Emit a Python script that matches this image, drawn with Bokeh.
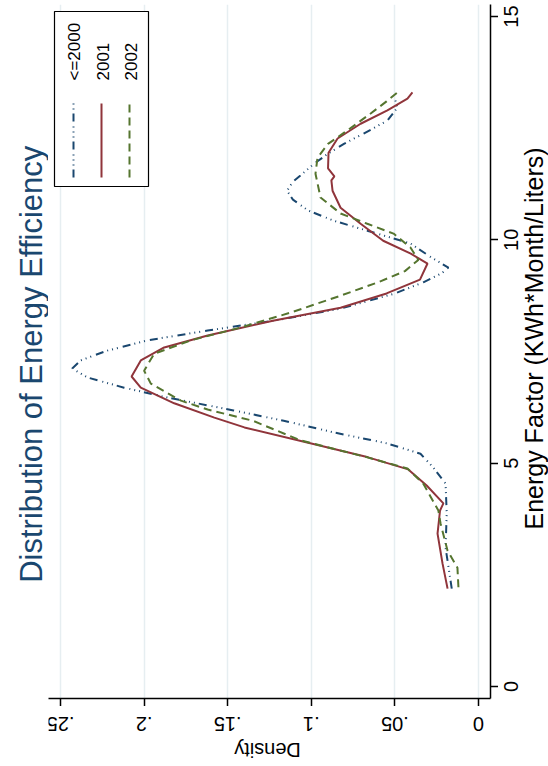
import math
from bokeh.plotting import figure
from bokeh.layouts import row, column
from bokeh.models import Range1d, FixedTicker
from bokeh.core.properties import value
from bokeh.embed import file_html
from bokeh.resources import INLINE

# ---------------- data (Energy Factor, Density) ----------------
ef_2000 = [2.19, 3.11, 3.87, 4.54, 4.9, 5.21, 5.44, 5.69, 5.95, 6.18, 6.47, 6.69, 6.92, 7.12,
           7.3, 7.52, 7.75, 7.97, 8.19, 8.46, 8.8, 9.05, 9.25, 9.38, 9.6, 9.92, 10.2, 10.43,
           10.66, 10.9, 11.1, 11.3, 11.44, 11.7, 11.93, 12.15, 12.38, 12.67, 12.96, 13.12]
d_2000 = [0.016, 0.0197, 0.019, 0.0197, 0.027, 0.0347, 0.0545, 0.0867, 0.1165, 0.1465, 0.186,
          0.212, 0.234, 0.243, 0.238, 0.222, 0.198, 0.162, 0.1225, 0.0825, 0.050, 0.033, 0.022,
          0.018, 0.028, 0.0407, 0.066, 0.0867, 0.102, 0.111, 0.1145, 0.111, 0.1065, 0.0985,
          0.090, 0.0805, 0.0687, 0.0545, 0.0485, 0.0497]

ef_2001 = [2.19, 2.75, 3.42, 3.94, 4.1, 4.5, 4.86, 5.13, 5.44, 5.8, 6.02, 6.34, 6.69, 6.94,
           7.3, 7.59, 7.86, 8.19, 8.48, 8.8, 9.11, 9.47, 9.69, 9.98, 10.36, 10.72, 11.1, 11.33,
           11.42, 11.6, 11.95, 12.27, 12.6, 12.9, 13.16, 13.3]
d_2001 = [0.0185, 0.0215, 0.0245, 0.023, 0.021, 0.031, 0.042, 0.066, 0.100, 0.14, 0.158, 0.182,
          0.202, 0.2075, 0.202, 0.188, 0.162, 0.123, 0.0825, 0.055, 0.035, 0.0305, 0.0405, 0.057,
          0.0705, 0.0825, 0.0873, 0.088, 0.0862, 0.090, 0.0897, 0.0843, 0.0705, 0.0545, 0.0425,
          0.0395]

ef_2002 = [2.22, 2.66, 3.04, 3.65, 3.94, 4.54, 4.88, 5.13, 5.51, 5.95, 6.2, 6.4, 6.78, 7.07,
           7.45, 7.75, 8.04, 8.37, 8.75, 9.05, 9.3, 9.55, 9.83, 10.14, 10.36, 10.59, 10.95,
           11.48, 11.84, 12.15, 12.45, 12.83, 13.1, 13.3]
d_2002 = [0.012, 0.0126, 0.0185, 0.0227, 0.024, 0.033, 0.0425, 0.0665, 0.1065, 0.135, 0.162,
          0.178, 0.196, 0.200, 0.194, 0.172, 0.142, 0.1125, 0.0825, 0.060, 0.044, 0.036, 0.0407,
          0.0508, 0.0665, 0.0825, 0.0945, 0.0975, 0.0963, 0.090, 0.0784, 0.0645, 0.055, 0.0485]

series_labels = ["<=2000", "2001", "2002"]
series_colors = ["#1A476F", "#90353B", "#55752F"]
series_dashes = ["8 4 1 4 1 4 1 5", "solid", "8 5"]

ef_ticks = [0, 5, 10, 15]
ef_tick_labels = ["0", "5", "10", "15"]
d_ticks = [0, 0.05, 0.1, 0.15, 0.2, 0.25]
d_tick_labels = ["0", ".05", ".1", ".15", ".2", ".25"]

title_text = "Distribution of Energy Efficiency"
ef_title = "Energy Factor (KWh*Month/Liters)"
d_title = "Density"

# ---------------- layout constants (pixels) ----------------
W, H = 548, 766
FL, FR, FT, FB = 48, 490, 4, 698      # plot frame in the page
TICK = 8
FONT = "Liberation Sans"
NAVY = "#1A476F"

xs, xe = 0.2572, -0.00718      # density (reversed, horizontal)
ys, ye = -0.27, 15.27           # energy factor (vertical)
x_rng = Range1d(xs, xe)
y_rng = Range1d(ys, ye)

top_h = FB + TICK               # height of the upper row
right_w = W - FR - TICK         # width of the right text strip
bottom_h = H - top_h            # height of the bottom text strip


def px_to_y(py):
    return ye - (py - FT) / (FB - FT) * (ye - ys)


def px_to_x(px):
    return xs + (px - FL) / (FR - FL) * (xe - xs)


def blank(fig):
    fig.outline_line_color = None
    fig.background_fill_color = "white"
    fig.border_fill_color = "white"
    fig.grid.visible = False
    return fig


# ---------------- main plot ----------------
p = figure(width=FR - FL + TICK, height=top_h, x_range=x_rng, y_range=y_rng,
           y_axis_location="right", output_backend="svg", toolbar_location=None,
           min_border_left=0, min_border_right=TICK, min_border_top=FT,
           min_border_bottom=TICK)
p.outline_line_color = None
p.background_fill_color = "white"
p.border_fill_color = "white"

for ax, ticks in ((p.xaxis[0], d_ticks), (p.yaxis[0], ef_ticks)):
    ax.ticker = FixedTicker(ticks=[], minor_ticks=ticks)
    ax.major_tick_out = 0
    ax.major_tick_in = 0
    ax.major_label_standoff = 0
    ax.minor_tick_out = TICK
    ax.minor_tick_in = 0
    ax.minor_tick_line_width = 1.5
    ax.minor_tick_line_color = "black"
    ax.axis_line_width = 1.5
    ax.axis_line_color = "black"

p.xgrid.ticker = FixedTicker(ticks=d_ticks)
p.xgrid.grid_line_color = "#E6EEF1"
p.xgrid.grid_line_width = 1.5
p.ygrid.grid_line_color = None

series = [(ef_2000, d_2000), (ef_2001, d_2001), (ef_2002, d_2002)]
for (ef, d), c, dash in zip(series, series_colors, series_dashes):
    p.line(x=d, y=ef, line_color=c, line_width=2, line_dash=dash)

# legend (rotated like the reference, drawn manually)
p.quad(left=[px_to_x(54)], right=[px_to_x(148)], top=[px_to_y(11)], bottom=[px_to_y(186)],
       fill_color="white", line_color="black", line_width=1.2)
key_px = [73, 101, 129]
for lab, c, dash, kx in zip(series_labels, series_colors, series_dashes, key_px):
    p.line(x=[px_to_x(kx), px_to_x(kx)], y=[px_to_y(177), px_to_y(103)],
           line_color=c, line_width=2, line_dash=dash)
    p.text(x=[px_to_x(kx + 1)], y=[px_to_y(80)], text=[lab], angle=math.pi / 2,
           text_align="left", text_baseline="middle", text_font=value(FONT),
           text_font_size="17px", text_color="black")

# ---------------- left strip: chart title ----------------
lft = blank(figure(width=FL, height=top_h, x_range=Range1d(0, FL), y_range=Range1d(top_h, 0),
                   x_axis_location=None, y_axis_location=None, output_backend="svg",
                   toolbar_location=None, min_border=0))
lft.text(x=[30.6], y=[366], text=[title_text], angle=math.pi / 2, text_align="center",
         text_baseline="middle", text_font=value(FONT), text_font_size="31px",
         text_color=NAVY)

# ---------------- right strip: energy-factor tick labels and title ----------------
rgt = blank(figure(width=right_w, height=top_h, x_range=Range1d(FR + TICK, W), y_range=y_rng,
                   x_axis_location=None, y_axis_location=None, output_backend="svg",
                   toolbar_location=None, min_border_left=0, min_border_right=0,
                   min_border_top=FT, min_border_bottom=TICK))
rgt.text(x=[510] * len(ef_ticks), y=ef_ticks, text=ef_tick_labels, angle=math.pi / 2,
         text_align="center", text_baseline="middle", text_font=value(FONT),
         text_font_size="20px", text_color="black")
rgt.text(x=[533], y=[px_to_y(338)], text=[ef_title], angle=math.pi / 2,
         text_align="center", text_baseline="middle", text_font=value(FONT),
         text_font_size="25px", text_color="black")

# ---------------- bottom strip: density tick labels and title ----------------
bot = blank(figure(width=W, height=bottom_h, x_range=x_rng, y_range=Range1d(H, top_h),
                   x_axis_location=None, y_axis_location=None, output_backend="svg",
                   toolbar_location=None, min_border_left=FL, min_border_right=W - FR,
                   min_border_top=0, min_border_bottom=0))
bot.text(x=d_ticks, y=[723] * len(d_ticks), text=d_tick_labels, angle=math.pi,
         text_align="center", text_baseline="middle", text_font=value(FONT),
         text_font_size="20px", text_color="black")
bot.text(x=[px_to_x(267)], y=[749], text=[d_title], angle=math.pi, text_align="center",
         text_baseline="middle", text_font=value(FONT), text_font_size="20px",
         text_color="black")

layout = column(row(lft, p, rgt, spacing=0), bot, spacing=0)
open("out.html", "w").write(file_html(layout, INLINE))
